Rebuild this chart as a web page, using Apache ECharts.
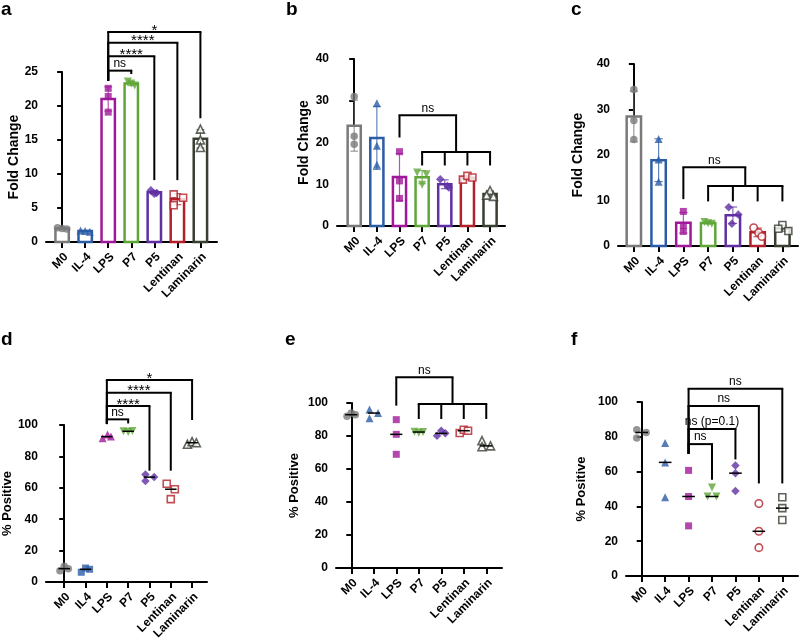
<!DOCTYPE html>
<html><head><meta charset="utf-8">
<script src="https://cdn.jsdelivr.net/npm/echarts@6/dist/echarts.min.js"></script>
<style>html,body{margin:0;padding:0;background:#fff}#c{width:800px;height:639px}</style>
</head><body><div id="c"></div>
<script>
// ================= DATA =================
const CATS_1 = ['M0', 'IL-4', 'LPS', 'P7', 'P5', 'Lentinan', 'Laminarin'];
const CATS_2 = ['M0', 'IL4', 'LPS', 'P7', 'P5', 'Lentinan', 'Laminarin'];

// replicate values (3 per group), group order as in the category arrays
const A_VALUES = [[2.1, 2.0, 1.9], [1.7, 1.6, 1.5], [22.6, 21.4, 19.1], [23.6, 23.3, 23.0], [7.6, 7.2, 7.1], [7.0, 6.5, 5.4], [16.6, 15.0, 13.9]];
const B_VALUES = [[31.0, 21.5, 19.6], [29.4, 19.2, 14.7], [17.8, 10.8, 6.6], [12.8, 12.4, 9.9], [11.2, 9.6, 9.2], [11.1, 12.0, 11.6], [8.5, 7.4, 7.1]];
const C_VALUES = [[34.4, 27.6, 23.4], [23.5, 19.0, 14.1], [7.6, 4.5, 3.2], [5.3, 5.0, 4.9], [8.5, 6.9, 4.9], [4.0, 2.9, 2.1], [4.6, 3.8, 3.3]];
const D_VALUES = [[7.2, 10.0, 8.5], [6.2, 8.9, 8.1], [91.5, 94.0, 92.6], [96.0, 95.6, 96.2], [68.5, 64.3, 66.8], [62.6, 59.1, 52.8], [87.7, 89.4, 88.7]];
const E_VALUES = [[91.9, 93.9, 92.9], [96.0, 90.7, 93.9], [89.9, 81.0, 68.9], [82.6, 82.0, 82.4], [80.2, 83.2, 81.6], [81.8, 83.8, 83.2], [77.2, 73.5, 74.0]];
const F_VALUES = [[84.1, 79.3, 82.5], [76.4, 65.3, 45.3], [60.7, 45.7, 28.8], [45.7, 50.9, 45.7], [63.5, 59.1, 48.9], [41.7, 25.7, 16.3], [45.3, 39.0, 32.2]];

// y-axis tick labels
const TICKS_FC_A = [0, 5, 10, 15, 20, 25];
const TICKS_FC_BC = [0, 10, 20, 30, 40];
const TICKS_PCT = [0, 20, 40, 60, 80, 100];

// significance annotations: group indices, bracket height, leg ends (data units), label
const A_SIG = [
  { xs: [2, 3], top: 25.2, legs: [23.7, 24.7], text: 'ns' },
  { xs: [2, 4], top: 27.3, legs: [23.7, 9.1], text: '****' },
  { xs: [2, 5], top: 29.3, legs: [23.7, 9.1], text: '****' },
  { xs: [2, 6], top: 30.9, legs: [23.7, 18.2], text: '*' }
];
const B_SIG = [
  { xs: [2, 4.5], top: 26.5, legs: [21.2, 17.7], text: 'ns' },
  { xs: [3, 4, 5, 6], top: 17.7, legs: [14.5, 14.5, 14.5, 14.5], text: '' }
];
const C_SIG = [
  { xs: [2, 4.5], top: 17.3, legs: [10.3, 13.2], text: 'ns' },
  { xs: [3, 4, 5, 6], top: 13.2, legs: [9.8, 9.8, 9.8, 9.8], text: '' }
];
const D_SIG = [
  { xs: [2, 3], top: 103.6, legs: [100.6, 101.0], text: 'ns' },
  { xs: [2, 4], top: 112.1, legs: [100.6, 70.9], text: '****' },
  { xs: [2, 5], top: 120.6, legs: [100.6, 70.9], text: '****' },
  { xs: [2, 6], top: 128.7, legs: [100.6, 103.2], text: '*' }
];
const E_SIG = [
  { xs: [2, 4.5], top: 115.6, legs: [98.4, 99.4], text: 'ns' },
  { xs: [3, 4, 5, 6], top: 99.4, legs: [90.3, 90.3, 90.3, 90.3], text: '' }
];
const F_SIG = [
  { xs: [2, 3], top: 75.8, legs: [70.1, 55.3], text: 'ns' },
  { xs: [2, 4], top: 84.5, legs: [70.1, 67.0], text: 'ns (p=0.1)' },
  { xs: [2, 5], top: 97.7, legs: [70.1, 53.2], text: 'ns' },
  { xs: [2, 6], top: 107.6, legs: [70.1, 53.2], text: 'ns' }
];

// ================= STYLE / LAYOUT =================
const COLORS = ['#7a7a7a', '#2c5ca6', '#a0199a', '#5fa638', '#5f30a3', '#b2212b', '#383f31'];
const FONT = '"Liberation Sans", Arial, Helvetica, sans-serif';

const S = {
  circle: { symbol: 'circle', size: 7.5 },
  tri: { symbol: 'triangle', size: 8 },
  sq: { symbol: 'rect', size: 7 },
  triDown: { symbol: 'triangle', size: 8, rotate: 180 },
  diamond: { symbol: 'diamond', size: 8.5 },
  oSq: { symbol: 'rect', size: 7, open: true },
  oTri: { symbol: 'triangle', size: 8, open: true },
  oCircle: { symbol: 'circle', size: 7.5, open: true }
};
const SYM_1 = [S.circle, S.tri, S.sq, S.triDown, S.diamond, S.oSq, S.oTri];
const SYM_D = [S.circle, S.sq, S.tri, S.triDown, S.diamond, S.oSq, S.oTri];
const SYM_3 = [S.circle, S.tri, S.sq, S.triDown, S.diamond, S.oCircle, S.oSq];

// horizontal jitter of replicate points (category units)
const JIT_A = [[-0.2, 0, 0.2], [-0.2, 0, 0.2], [0, 0, 0], [-0.15, 0, 0.15], [-0.15, 0.1, 0], [-0.16, 0.25, -0.16], [0, 0, 0]];
const JIT_B = [[0, 0, 0], [0, 0, 0], [0, 0, 0], [-0.22, 0.19, 0], [-0.2, 0.12, 0.18], [-0.2, 0, 0.22], [0, -0.15, 0.15]];
const JIT_C = [[0, 0, 0], [0, 0, 0], [0, 0, 0], [-0.15, 0, 0.15], [-0.17, 0.22, -0.04], [-0.16, 0.04, 0.17], [0, -0.17, 0.24]];
const JIT_D = [[-0.2, 0, 0.19], [-0.2, 0, 0.19], [-0.2, 0.03, 0.19], [-0.22, 0, 0.2], [-0.19, -0.19, 0.22], [-0.19, 0.19, 0], [-0.22, 0, 0.2]];
const JIT_E = [[-0.19, 0, 0.18], [-0.19, -0.19, 0.19], [0, 0, 0], [-0.19, 0, 0.19], [-0.19, 0, 0.18], [-0.18, 0, 0.19], [-0.19, -0.19, 0.19]];
const JIT_F = [[-0.21, -0.21, 0.19], [0, 0, 0], [0, 0, 0], [-0.19, 0, 0.19], [0, 0, 0], [0, 0, 0], [0, 0, 0]];

const PANELS = [
  { letter: 'a', lx: 1, ly: 0, cats: CATS_1, vals: A_VALUES, kind: 'bar', ticks: TICKS_FC_A, name: 'Fold Change', nameSize: 14, nameGap: 23, sig: A_SIG, sym: SYM_1, jit: JIT_A,
    grid: { left: 46, top: 72, width: 171, height: 170 }, xMin: -0.7, xMax: 6.72 },
  { letter: 'b', lx: 286, ly: 0, cats: CATS_1, vals: B_VALUES, kind: 'bar', ticks: TICKS_FC_BC, name: 'Fold Change', nameSize: 14, nameGap: 26, sig: B_SIG, sym: SYM_1, jit: JIT_B,
    grid: { left: 337, top: 59, width: 168, height: 167 }, xMin: -0.76, xMax: 6.66 },
  { letter: 'c', lx: 571, ly: 0, cats: CATS_1, vals: C_VALUES, kind: 'bar', ticks: TICKS_FC_BC, name: 'Fold Change', nameSize: 14, nameGap: 33, sig: C_SIG, sym: SYM_3, jit: JIT_C,
    grid: { left: 618, top: 64, width: 180, height: 182 }, xMin: -0.64, xMax: 6.63 },
  { letter: 'd', lx: 1, ly: 330, cats: CATS_2, vals: D_VALUES, kind: 'dot', ticks: TICKS_PCT, name: '% Positive', nameSize: 13, nameGap: 28, sig: D_SIG, sym: SYM_D, jit: JIT_D,
    grid: { left: 44, top: 425, width: 163, height: 157 }, xMin: -0.86, xMax: 6.7 },
  { letter: 'e', lx: 285, ly: 330, cats: CATS_1, vals: E_VALUES, kind: 'dot', ticks: TICKS_PCT, name: '% Positive', nameSize: 13, nameGap: 35, sig: E_SIG, sym: SYM_1, jit: JIT_E,
    grid: { left: 336, top: 403, width: 166, height: 165 }, xMin: -0.68, xMax: 6.7 },
  { letter: 'f', lx: 571, ly: 330, cats: CATS_2, vals: F_VALUES, kind: 'dot', ticks: TICKS_PCT, name: '% Positive', nameSize: 13, nameGap: 38, sig: F_SIG, sym: SYM_3, jit: JIT_F,
    grid: { left: 626, top: 402, width: 172, height: 174 }, xMin: -0.67, xMax: 6.67 }
];

// ================= BUILD =================
const mean = a => a.reduce((s, v) => s + v, 0) / a.length;
const sd = a => { const m = mean(a); return Math.sqrt(a.reduce((s, v) => s + (v - m) * (v - m), 0) / (a.length - 1)); };
const median = a => a.slice().sort((x, y) => x - y)[Math.floor(a.length / 2)];
const IDX = [0, 1, 2, 3, 4, 5, 6];

const grids = [], xAxes = [], yAxes = [], series = [], graphics = [];

PANELS.forEach((p, pi) => {
  grids.push(Object.assign({ containLabel: false }, p.grid));
  xAxes.push({
    gridIndex: pi, type: 'value', min: p.xMin, max: p.xMax,
    axisLine: { show: true, onZero: false, lineStyle: { color: '#000', width: 2 } },
    axisTick: { show: true, customValues: IDX, length: 6, lineStyle: { color: '#000', width: 2 } },
    axisLabel: { show: false },
    splitLine: { show: false }
  });
  const tk = p.ticks;
  yAxes.push({
    gridIndex: pi, type: 'value', min: tk[0], max: tk[tk.length - 1], interval: tk[1] - tk[0],
    name: p.name, nameLocation: 'middle', nameRotate: 90, nameGap: p.nameGap,
    nameTextStyle: { color: '#000', fontFamily: FONT, fontSize: p.nameSize, fontWeight: 'bold' },
    axisLine: { show: true, lineStyle: { color: '#000', width: 2 } },
    axisTick: { show: true, length: 5, lineStyle: { color: '#000', width: 2 } },
    axisLabel: { color: '#000', fontFamily: FONT, fontSize: 12, fontWeight: 'bold', margin: 8 },
    splitLine: { show: false }
  });

  // rotated category labels, anchored at each category tick
  series.push({
    type: 'custom', xAxisIndex: pi, yAxisIndex: pi, z: 6, clip: false, silent: true,
    data: IDX.map(i => [i, tk[0]]),
    renderItem: (params, api) => {
      const pt = api.coord([api.value(0), api.value(1)]);
      return { type: 'text', x: pt[0] + 4, y: pt[1] + 13, rotation: Math.PI / 4,
        style: { text: p.cats[params.dataIndex], fill: '#000', font: 'bold 12px ' + FONT, align: 'right', verticalAlign: 'middle' } };
    }
  });

  const stats = p.vals.map((v, i) => [i, mean(v), sd(v), median(v)]);

  if (p.kind === 'bar') {
    series.push({
      type: 'custom', xAxisIndex: pi, yAxisIndex: pi, z: 2, clip: false, silent: true,
      data: stats.map(s => [s[0], s[1]]),
      renderItem: (params, api) => {
        const x = api.value(0), y = api.value(1), c = COLORS[params.dataIndex];
        const a = api.coord([x - 0.29, y]), b = api.coord([x + 0.29, 0]);
        return { type: 'rect', shape: { x: a[0], y: a[1], width: b[0] - a[0], height: b[1] - a[1] },
          style: { fill: '#fff', stroke: c, lineWidth: 2.5 } };
      }
    });
    series.push({
      type: 'custom', xAxisIndex: pi, yAxisIndex: pi, z: 3, clip: false, silent: true,
      data: stats.map(s => [s[0], s[1], s[2]]),
      renderItem: (params, api) => {
        const x = api.value(0), m = api.value(1), d = api.value(2), c = COLORS[params.dataIndex];
        const hi = api.coord([x, m + d]), lo = api.coord([x, m - d]);
        const l = api.coord([x - 0.17, 0])[0], r = api.coord([x + 0.17, 0])[0];
        const st = { stroke: c, lineWidth: 1.2, opacity: 0.75 };
        return { type: 'group', children: [
          { type: 'line', shape: { x1: hi[0], y1: hi[1], x2: lo[0], y2: lo[1] }, style: st },
          { type: 'line', shape: { x1: l, y1: hi[1], x2: r, y2: hi[1] }, style: st },
          { type: 'line', shape: { x1: l, y1: lo[1], x2: r, y2: lo[1] }, style: st }
        ] };
      }
    });
  } else {
    series.push({
      type: 'custom', xAxisIndex: pi, yAxisIndex: pi, z: 5, clip: false, silent: true,
      data: stats.map(s => [s[0], s[3]]),
      renderItem: (params, api) => {
        const a = api.coord([api.value(0) - 0.27, api.value(1)]), b = api.coord([api.value(0) + 0.27, api.value(1)]);
        return { type: 'line', shape: { x1: a[0], y1: a[1], x2: b[0], y2: b[1] }, style: { stroke: '#000', lineWidth: 1.5 } };
      }
    });
  }

  // replicate points
  const pts = [];
  p.vals.forEach((arr, gi) => {
    const sy = p.sym[gi], c = COLORS[gi];
    arr.forEach((v, k) => {
      pts.push({
        value: [gi + p.jit[gi][k], v],
        symbol: sy.symbol, symbolSize: sy.size, symbolRotate: sy.rotate || 0,
        itemStyle: sy.open ? { color: '#fff', borderColor: c, borderWidth: 1.6 } : { color: c, borderWidth: 0 }
      });
    });
  });
  series.push({ type: 'scatter', xAxisIndex: pi, yAxisIndex: pi, z: 4, clip: false, silent: true, data: pts });

  // significance brackets
  series.push({
    type: 'custom', xAxisIndex: pi, yAxisIndex: pi, z: 6, clip: false, silent: true,
    data: p.sig.map((b, i) => [b.xs[0], b.top, i]),
    renderItem: (params, api) => {
      const b = p.sig[params.dataIndex];
      const st = { stroke: '#000', lineWidth: 2 };
      const L = api.coord([b.xs[0], b.top]), R = api.coord([b.xs[b.xs.length - 1], b.top]);
      const ch = [{ type: 'line', shape: { x1: L[0] - 1, y1: L[1], x2: R[0] + 1, y2: R[1] }, style: st }];
      b.xs.forEach((xv, k) => {
        const t = api.coord([xv, b.top]), btm = api.coord([xv, b.legs[k]]);
        ch.push({ type: 'line', shape: { x1: t[0], y1: t[1], x2: btm[0], y2: btm[1] }, style: st });
      });
      if (b.text) {
        const star = b.text.indexOf('*') === 0;
        ch.push({ type: 'text', x: (L[0] + R[0]) / 2, y: L[1] + (star ? 6 : -1),
          style: { text: b.text, fill: '#000', font: (star ? '15px ' : '12px ') + FONT, align: 'center', verticalAlign: 'bottom' } });
      }
      return { type: 'group', children: ch };
    }
  });

  graphics.push({ type: 'text', left: p.lx, top: p.ly, style: { text: p.letter, fill: '#000', font: 'bold 19px ' + FONT } });
});

const chart = echarts.init(document.getElementById('c'), null, { renderer: 'canvas' });
chart.setOption({
  animation: false,
  backgroundColor: '#fff',
  grid: grids, xAxis: xAxes, yAxis: yAxes, series: series, graphic: graphics
});
</script>
</body></html>
